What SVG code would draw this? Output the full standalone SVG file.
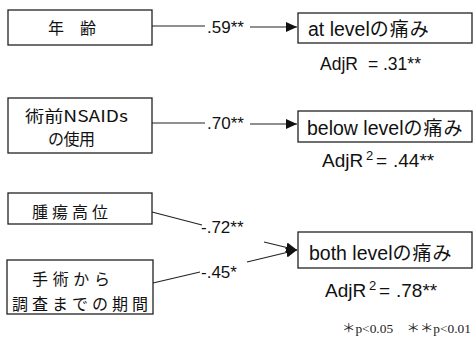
<svg xmlns="http://www.w3.org/2000/svg" width="473" height="342" viewBox="0 0 473 342">
  <style>
    .box { fill: #fff; stroke: #222; stroke-width: 1.3; }
    .jp { font-family: "Noto Sans CJK JP", sans-serif; font-size: 16px; fill: #111; }
    .lat { font-family: "Liberation Sans", Arial, sans-serif; fill: #111; }
    .tgt { font-size: 19.5px; }
    .tgt .jp { font-size: 19px; letter-spacing: 1px; }
    .coef { font-size: 17px; }
    .edge { fill: none; stroke: #222; stroke-width: 1.2; }
    .note { font-family: "Liberation Serif", "Noto Sans CJK JP", serif; font-size: 12px; fill: #222; }
  </style>
  <defs>
    <marker id="arrow" markerUnits="userSpaceOnUse" markerWidth="12" markerHeight="10" refX="11" refY="5" orient="auto">
      <path d="M0,0 L11,5 L0,10 Z" fill="#111"/>
    </marker>
  </defs>

  <!-- predictor boxes -->
  <g id="age">
    <rect class="box" x="8" y="10" width="144" height="35"/>
    <text class="jp" x="48 80" y="34">年齢</text>
  </g>
  <g id="nsaids">
    <rect class="box" x="8" y="98" width="144" height="55"/>
    <text class="jp" x="25" y="122" textLength="103" lengthAdjust="spacingAndGlyphs">術前NSAIDs</text>
    <text class="jp" x="48" y="145" textLength="47">の使用</text>
  </g>
  <g id="tumor-level">
    <rect class="box" x="8" y="193" width="144" height="31"/>
    <text class="jp" x="32" y="218" textLength="76">腫瘍高位</text>
  </g>
  <g id="period">
    <rect class="box" x="7" y="260" width="146" height="54"/>
    <text class="jp" x="32" y="285" textLength="78">手術から</text>
    <text class="jp" x="12" y="310" textLength="136">調査までの期間</text>
  </g>

  <!-- outcome boxes -->
  <g id="at-level">
    <rect class="box" x="298" y="13" width="174" height="30"/>
    <text class="lat tgt" x="308" y="36">at level<tspan class="jp">の痛み</tspan></text>
    <text class="lat" font-size="17.5" y="70"><tspan x="320">AdjR</tspan><tspan x="368">=</tspan><tspan x="383">.31**</tspan></text>
  </g>
  <g id="below-level">
    <rect class="box" x="298" y="111" width="174" height="31"/>
    <text class="lat tgt" x="307" y="135">below level<tspan class="jp">の痛み</tspan></text>
    <text class="lat" font-size="19" y="167"><tspan x="322">AdjR</tspan><tspan x="366" y="160" font-size="13">2</tspan><tspan x="376" y="167">=</tspan><tspan x="393">.44**</tspan></text>
  </g>
  <g id="both-level">
    <rect class="box" x="298" y="232" width="174" height="36"/>
    <text class="lat tgt" x="309" y="260">both level<tspan class="jp">の痛み</tspan></text>
    <text class="lat" font-size="19" y="297"><tspan x="325">AdjR</tspan><tspan x="369" y="290" font-size="13">2</tspan><tspan x="379" y="297">=</tspan><tspan x="396">.78**</tspan></text>
  </g>

  <!-- path coefficients and connectors -->
  <g id="connectors">
    <path class="edge" d="M152,26 H205"/>
    <path class="edge" d="M250,27 H297" marker-end="url(#arrow)"/>
    <text class="lat coef" x="207" y="33">.59**</text>

    <path class="edge" d="M152,123 H205"/>
    <path class="edge" d="M250,124 H297" marker-end="url(#arrow)"/>
    <text class="lat coef" x="207" y="129">.70**</text>

    <path class="edge" d="M152,212 L202,225"/>
    <path class="edge" d="M264,242 L297,250" marker-end="url(#arrow)"/>
    <text class="lat coef" x="201" y="233">-.72**</text>

    <path class="edge" d="M153,283 L200,272"/>
    <path class="edge" d="M247,262 L297,250" marker-end="url(#arrow)"/>
    <text class="lat coef" x="201" y="278">-.45*</text>
  </g>

  <text class="note" x="342" y="333" textLength="129" lengthAdjust="spacingAndGlyphs">＊p&lt;0.05　＊＊p&lt;0.01</text>
</svg>
